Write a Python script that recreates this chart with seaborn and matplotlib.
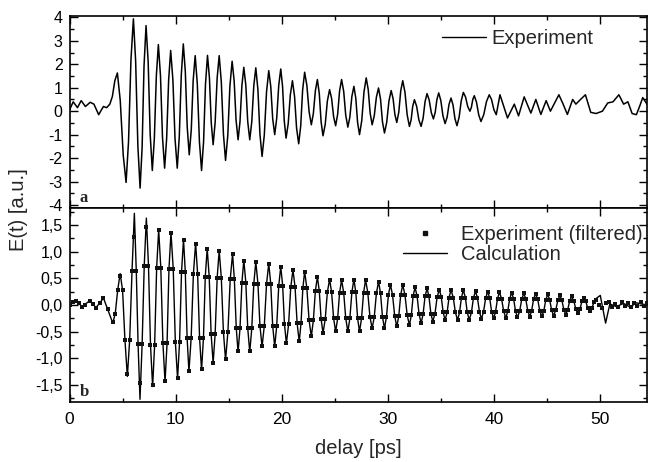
import matplotlib
matplotlib.use("Agg")
import matplotlib.pyplot as plt
from matplotlib.ticker import FixedLocator, FixedFormatter, MultipleLocator
from matplotlib.lines import Line2D
import pandas as pd
import seaborn as sns

# ---------------- data ----------------
# panel a: measured E(t), turning points of the trace
exp_t = [0.0, 0.35, 0.75, 1.1, 1.5, 1.95, 2.3, 2.75, 3.0, 3.2, 3.5, 3.8,
         4.51, 5.33, 6.02, 6.65, 7.21, 7.8, 8.37, 8.96, 9.53, 10.15, 10.72,
         11.28, 11.84, 12.44, 13.0, 13.53, 14.1, 14.7, 15.32, 15.88, 16.42,
         16.98, 17.55, 18.14, 18.77, 19.33, 19.9, 20.4, 21.0, 21.59, 22.15,
         22.78, 23.35, 23.88, 24.5, 25.07, 25.63, 26.22, 26.79, 27.32, 27.95,
         28.51, 29.11, 29.67, 30.3, 30.83, 31.39, 32.02, 32.49, 33.12, 33.68,
         34.28, 34.78, 35.38, 35.94, 36.5, 37.1, 37.72, 38.13, 38.76, 39.54,
         40.2, 40.55, 41.26, 41.9, 42.3, 42.83, 43.46, 43.93, 44.4, 44.9,
         45.3, 46.1, 46.5, 46.9, 47.4, 47.7, 48.16, 48.6, 49.1, 49.6, 50.2,
         50.7, 51.2, 51.75, 52.2, 52.6, 53.0, 53.4, 53.7, 54.0, 54.4]
exp_v = [0.05, 0.4, 0.15, 0.45, 0.2, 0.38, 0.3, -0.15, 0.05, 0.2, 0.15, 0.3,
         1.63, -3.04, 3.94, -3.28, 3.65, -2.53, 2.84, -2.43, 2.59, -2.43, 2.87,
         -1.86, 2.37, -2.53, 2.38, -1.43, 2.37, -2.1, 2.13, -1.22, 1.87,
         -1.22, 1.85, -1.93, 1.73, -1.0, 1.8, -1.15, 1.3, -1.39, 1.66,
         -0.58, 1.35, -1.05, 0.92, -0.62, 1.35, -0.68, 1.06, -1.0, 1.42,
         -0.58, 0.99, -0.93, 0.88, -0.48, 1.3, -0.65, 0.49, -0.65, 0.75,
         -0.33, 0.78, -0.53, 0.56, -0.62, 0.8, 0.0, 0.66, -0.44, 0.7,
         -0.15, 0.7, -0.29, 0.3, -0.2, 0.61, -0.08, 0.5, -0.14, 0.45,
         0.0, 0.7, 0.3, -0.14, 0.5, 0.3, 0.51, 0.7, -0.05, -0.1, 0.0,
         0.35, 0.4, 0.7, 0.3, 0.4, -0.1, -0.15, 0.2, 0.58, 0.3]
# panel a: points read on the flanks between the turning points
exp_flank_t = [4.04, 4.27, 4.78, 5.06, 5.56, 5.79, 6.23, 6.44, 6.84, 7.02,
               7.41, 7.6, 7.99, 8.18, 8.57, 8.76, 9.15, 9.34, 9.74, 9.94,
               10.34, 10.53, 10.91, 11.09, 11.47, 11.65, 12.04, 12.24, 12.63, 12.81,
               13.18, 13.35, 13.72, 13.91, 14.3, 14.5, 14.91, 15.11, 15.51, 15.69,
               16.06, 16.24, 16.61, 16.79, 17.17, 17.36, 17.75, 17.94, 18.35, 18.56,
               18.96, 19.14, 19.52, 19.71, 20.07, 20.23, 20.6, 20.8, 21.2, 21.39,
               21.78, 21.96, 22.36, 22.57, 22.97, 23.16, 23.53, 23.7, 24.09, 24.29,
               24.69, 24.88, 25.26, 25.44, 25.83, 26.02, 26.41, 26.6, 26.97, 27.14,
               27.53, 27.74, 28.14, 28.32, 28.71, 28.91, 29.3, 29.48, 29.88, 30.09,
               30.48, 30.65, 31.02, 31.2, 31.6, 31.81, 32.18, 32.33, 32.7, 32.91,
               33.31, 33.49, 33.88, 34.08, 34.45, 34.61, 34.98, 35.18, 35.57, 35.75,
               36.13, 36.31, 36.7, 36.9, 37.31, 37.51, 37.86, 37.99, 38.34, 38.55,
               39.02, 39.28, 39.76, 39.98]
exp_flank_v = [0.63, 1.3, 0.46, -1.87, -1.3, 2.2, 2.14, -1.48, -1.55, 1.92,
               2.11, -0.99, -1.19, 1.5, 1.52, -1.11, -1.17, 1.33, 1.33, -1.17,
               -1.1, 1.54, 1.69, -0.68, -0.8, 1.31, 1.15, -1.31, -1.3, 1.15,
               1.43, -0.48, -0.48, 1.42, 1.25, -0.98, -1.04, 1.07, 1.29, -0.38,
               -0.45, 1.1, 1.1, -0.45, -0.45, 1.08, 0.91, -0.99, -1.02, 0.82,
               1.05, -0.32, -0.3, 1.1, 1.06, -0.41, -0.54, 0.69, 0.63, -0.72,
               -0.63, 0.9, 1.1, -0.02, -0.1, 0.87, 0.75, -0.45, -0.56, 0.43,
               0.54, -0.24, -0.13, 0.86, 0.84, -0.17, -0.25, 0.63, 0.55, -0.49,
               -0.4, 0.82, 0.92, -0.08, -0.19, 0.6, 0.51, -0.45, -0.48, 0.43,
               0.54, -0.14, -0.04, 0.86, 0.81, -0.16, -0.37, 0.21, 0.21, -0.37,
               -0.3, 0.4, 0.48, -0.06, -0.05, 0.5, 0.45, -0.2, -0.26, 0.29,
               0.26, -0.32, -0.26, 0.44, 0.6, 0.2, 0.17, 0.5, 0.38, -0.16,
               -0.15, 0.41, 0.49, 0.06]

# panel b: calculation, turning points
calc_t = [0.0, 0.6, 1.2, 1.9, 2.5, 3.2, 4.08, 4.77, 5.45, 6.11, 6.64, 7.24,
          7.83, 8.4, 9.0, 9.56, 10.18, 10.74, 11.25, 11.88, 12.44, 12.97,
          13.53, 14.1, 14.7, 15.36, 15.88, 16.42, 16.98, 17.55, 18.14, 18.77,
          19.33, 19.9, 20.43, 21.05, 21.64, 22.15, 22.78, 23.35, 23.88, 24.5,
          25.07, 25.63, 26.22, 26.79, 27.32, 27.89, 28.51, 29.11, 29.67, 30.23,
          30.83, 31.39, 32.02, 32.55, 33.12, 33.68, 34.22, 34.84, 35.38, 35.94,
          36.56, 37.1, 37.66, 38.25, 38.8, 39.4, 39.95, 40.5, 41.1, 41.65,
          42.2, 42.8, 43.35, 43.9, 44.5, 45.05, 45.6, 46.2, 46.75, 47.3,
          47.9, 48.45, 49.0, 49.6, 50.0, 50.5, 50.9, 51.5, 52.2, 52.8, 53.4, 54.4]
calc_v = [0.02, 0.08, -0.03, 0.08, -0.05, 0.13, -0.34, 0.59, -1.34, 1.72, -1.77, 1.63,
          -1.53, 1.41, -1.44, 1.36, -1.38, 1.23, -1.25, 1.16, -1.22, 1.06,
          -1.09, 1.02, -1.03, 0.96, -0.88, 0.84, -0.88, 0.81, -0.78, 0.78,
          -0.78, 0.72, -0.72, 0.66, -0.69, 0.63, -0.59, 0.53, -0.53, 0.48,
          -0.5, 0.47, -0.5, 0.48, -0.5, 0.47, -0.44, 0.44, -0.44, 0.38,
          -0.41, 0.38, -0.38, 0.33, -0.34, 0.31, -0.31, 0.29, -0.28, 0.28,
          -0.28, 0.28, -0.28, 0.26, -0.26, 0.25, -0.25, 0.24, -0.24, 0.23,
          -0.23, 0.22, -0.22, 0.21, -0.21, 0.2, -0.2, 0.18, -0.18, 0.16,
          -0.15, 0.14, -0.12, 0.12, 0.18, -0.34, 0.02, -0.03, 0.03, -0.04, 0.04, 0.0]

# panel b: filtered experiment, turning points (plus quiet start and end)
filt_t = [0.0, 0.3, 0.6, 0.9, 1.2, 1.5, 1.9, 2.2, 2.5, 2.85,
          3.2, 3.6, 4.08, 4.77, 5.45, 6.11, 6.64, 7.24, 7.83, 8.4,
          9.0, 9.56, 10.18, 10.74, 11.25, 11.88, 12.44, 12.97, 13.53, 14.1,
          14.7, 15.36, 15.88, 16.42, 16.98, 17.55, 18.14, 18.77, 19.33, 19.9,
          20.43, 21.05, 21.64, 22.15, 22.78, 23.35, 23.88, 24.5, 25.07, 25.63,
          26.22, 26.79, 27.32, 27.89, 28.51, 29.11, 29.67, 30.23, 30.83, 31.39,
          32.02, 32.55, 33.12, 33.68, 34.22, 34.84, 35.38, 35.94, 36.56, 37.1,
          37.66, 38.25, 38.8, 39.4, 39.95, 40.5, 41.1, 41.65, 42.2, 42.8,
          43.35, 43.9, 44.5, 45.05, 45.6, 46.2, 46.75, 47.3, 47.9, 48.45,
          49.0, 49.6, 49.9, 50.2, 50.5, 50.8, 51.1, 51.4, 51.7, 52.0,
          52.3, 52.6, 52.9, 53.2, 53.5, 53.8, 54.1, 54.4]
filt_v = [0.0, 0.05, 0.08, 0.03, -0.04, 0.0, 0.08, 0.02, -0.05, 0.04,
          0.13, -0.08, -0.32, 0.55, -1.3, 1.28, -1.47, 1.47, -1.5, 1.4,
          -1.43, 1.35, -1.37, 1.22, -1.24, 1.15, -1.21, 1.05, -1.08, 1.01,
          -1.02, 0.95, -0.87, 0.83, -0.87, 0.8, -0.77, 0.77, -0.77, 0.71,
          -0.71, 0.65, -0.68, 0.62, -0.58, 0.52, -0.52, 0.47, -0.49, 0.46,
          -0.49, 0.47, -0.49, 0.46, -0.43, 0.43, -0.43, 0.37, -0.4, 0.37,
          -0.37, 0.33, -0.33, 0.31, -0.31, 0.29, -0.28, 0.28, -0.28, 0.28,
          -0.28, 0.26, -0.26, 0.25, -0.25, 0.24, -0.24, 0.23, -0.23, 0.22,
          -0.22, 0.21, -0.21, 0.2, -0.2, 0.18, -0.18, 0.16, -0.15, 0.14,
          -0.12, 0.1, 0.0, -0.06, 0.03, 0.06, -0.03, 0.02, -0.04, 0.05,
          -0.02, 0.03, -0.03, 0.04, -0.02, 0.05, -0.02, 0.03]
# panel b: points on the flanks, where data and calculation overlap
flank_t = [4.31, 4.54, 5.0, 5.22, 5.67, 5.89, 6.29, 6.46, 6.84, 7.04,
           7.44, 7.63, 8.02, 8.21, 8.6, 8.8, 9.19, 9.37, 9.77, 9.97,
           10.37, 10.55, 10.91, 11.08, 11.46, 11.67, 12.07, 12.25, 12.62, 12.79,
           13.16, 13.34, 13.72, 13.91, 14.3, 14.5, 14.92, 15.14, 15.53, 15.71,
           16.06, 16.24, 16.61, 16.79, 17.17, 17.36, 17.75, 17.94, 18.35, 18.56,
           18.96, 19.14, 19.52, 19.71, 20.08, 20.25, 20.64, 20.84, 21.25, 21.44,
           21.81, 21.98, 22.36, 22.57, 22.97, 23.16, 23.53, 23.7, 24.09, 24.29,
           24.69, 24.88, 25.26, 25.44, 25.83, 26.02, 26.41, 26.6, 26.97, 27.14,
           27.51, 27.7, 28.1, 28.3, 28.71, 28.91, 29.3, 29.48, 29.86, 30.04,
           30.43, 30.63, 31.02, 31.2, 31.6, 31.81, 32.2, 32.37, 32.74, 32.93,
           33.31, 33.49, 33.86, 34.04, 34.43, 34.63, 35.02, 35.2, 35.57, 35.75,
           36.15, 36.35, 36.74, 36.92, 37.29, 37.47, 37.86, 38.05, 38.43, 38.62,
           39.0, 39.2, 39.58, 39.77, 40.13, 40.32, 40.7, 40.9, 41.28, 41.47,
           41.83, 42.02, 42.4, 42.6, 42.98, 43.17, 43.53, 43.72, 44.1, 44.3,
           44.68, 44.87, 45.23, 45.42, 45.8, 46.0, 46.38, 46.57, 46.93, 47.12,
           47.5, 47.7, 48.08, 48.27, 48.63, 48.82, 49.2, 49.4]
flank_v = [-0.16, 0.28, 0.28, -0.65, -0.65, 0.64, 0.64, -0.74, -0.74, 0.74,
           0.74, -0.75, -0.75, 0.70, 0.70, -0.72, -0.72, 0.68, 0.68, -0.69,
           -0.69, 0.61, 0.61, -0.62, -0.62, 0.58, 0.58, -0.61, -0.61, 0.53,
           0.53, -0.54, -0.54, 0.51, 0.51, -0.51, -0.51, 0.48, 0.48, -0.44,
           -0.44, 0.42, 0.42, -0.44, -0.44, 0.40, 0.40, -0.39, -0.39, 0.39,
           0.39, -0.39, -0.39, 0.36, 0.36, -0.36, -0.36, 0.33, 0.33, -0.34,
           -0.34, 0.31, 0.31, -0.29, -0.29, 0.26, 0.26, -0.26, -0.26, 0.24,
           0.24, -0.25, -0.25, 0.23, 0.23, -0.25, -0.25, 0.24, 0.24, -0.25,
           -0.25, 0.23, 0.23, -0.22, -0.22, 0.22, 0.22, -0.22, -0.22, 0.19,
           0.19, -0.2, -0.2, 0.19, 0.19, -0.19, -0.19, 0.17, 0.17, -0.17,
           -0.17, 0.16, 0.16, -0.16, -0.16, 0.15, 0.15, -0.14, -0.14, 0.14,
           0.14, -0.14, -0.14, 0.14, 0.14, -0.14, -0.14, 0.13, 0.13, -0.13,
           -0.13, 0.13, 0.13, -0.13, -0.13, 0.12, 0.12, -0.12, -0.12, 0.12,
           0.12, -0.12, -0.12, 0.11, 0.11, -0.11, -0.11, 0.11, 0.11, -0.11,
           -0.11, 0.10, 0.10, -0.10, -0.10, 0.09, 0.09, -0.09, -0.09, 0.08,
           0.08, -0.08, -0.08, 0.07, 0.07, -0.06, -0.06, 0.05]

x_ticks = [0, 10, 20, 30, 40, 50]
x_labels = ["0", "10", "20", "30", "40", "50"]
a_ticks = [-4, -3, -2, -1, 0, 1, 2, 3, 4]
a_labels = ["-4", "-3", "-2", "-1", "0", "1", "2", "3", "4"]
b_ticks = [-1.5, -1.0, -0.5, 0.0, 0.5, 1.0, 1.5]
b_labels = ["-1,5", "-1,0", "-0,5", "0,0", "0,5", "1,0", "1,5"]

exp_df = pd.DataFrame({"t": exp_t + exp_flank_t,
                       "v": exp_v + exp_flank_v}).sort_values("t")
calc_df = pd.DataFrame({"t": calc_t + flank_t,
                        "v": calc_v + flank_v}).sort_values("t")
filt_df = pd.DataFrame({"t": filt_t + flank_t, "v": filt_v + flank_v})

# ---------------- style ----------------
sns.set_style("ticks")
plt.rcParams["font.family"] = ["Liberation Sans", "DejaVu Sans"]
plt.rcParams["axes.unicode_minus"] = False
plt.rcParams["axes.linewidth"] = 1.2

W, H = 652, 462
fig = plt.figure(figsize=(W / 100, H / 100), dpi=100)
L = 69.5 / W
AW = (647 - 69.5) / W
ax_a = fig.add_axes([L, 1 - 208 / H, AW, 192 / H])
ax_b = fig.add_axes([L, 1 - 402 / H, AW, 194 / H])

sns.lineplot(data=exp_df, x="t", y="v", ax=ax_a, color="black", lw=1.1,
             estimator=None, sort=False)
sns.lineplot(data=calc_df, x="t", y="v", ax=ax_b, color="black", lw=1.0,
             estimator=None, sort=False, zorder=2)
sns.scatterplot(data=filt_df, x="t", y="v", ax=ax_b, marker="s", s=11,
                color="#111111", linewidth=0, zorder=3)

for ax in (ax_a, ax_b):
    ax.set_xlim(0, 54.4)
    ax.xaxis.set_major_locator(FixedLocator(x_ticks))
    ax.xaxis.set_minor_locator(MultipleLocator(5))
    ax.tick_params(which="both", direction="in", top=True, right=True,
                   width=1.0, colors="black")
    ax.tick_params(which="major", length=6)
    ax.tick_params(which="minor", length=3)
    ax.tick_params(axis="y", labelsize=11.5, pad=5)
    for s in ax.spines.values():
        s.set_color("black")
    ax.set_xlabel("")
    ax.set_ylabel("")

ax_a.set_ylim(-4.13, 4.06)
ax_a.yaxis.set_major_locator(FixedLocator(a_ticks))
ax_a.yaxis.set_major_formatter(FixedFormatter(a_labels))
ax_a.yaxis.set_minor_locator(MultipleLocator(0.5))
ax_a.tick_params(axis="x", labelbottom=False)

ax_b.set_ylim(-1.82, 1.82)
ax_b.yaxis.set_major_locator(FixedLocator(b_ticks))
ax_b.yaxis.set_major_formatter(FixedFormatter(b_labels))
ax_b.yaxis.set_minor_locator(MultipleLocator(0.25))
ax_b.xaxis.set_major_formatter(FixedFormatter(x_labels))
ax_b.tick_params(axis="x", labelsize=12.5, pad=7)

# panel letters
ax_a.text(0.018, 0.012, "a", transform=ax_a.transAxes, ha="left", va="bottom",
          fontsize=12, fontweight="bold", family="Liberation Serif")
ax_b.text(0.018, 0.012, "b", transform=ax_b.transAxes, ha="left", va="bottom",
          fontsize=12, fontweight="bold", family="Liberation Serif")

# legends
h_exp = Line2D([], [], color="black", lw=1.0)
ax_a.legend([h_exp], ["Experiment"], loc="center left",
            bbox_to_anchor=(0.645, 0.883), frameon=False, fontsize=14.5,
            handlelength=2.2, handletextpad=0.25, borderpad=0,
            borderaxespad=0)
h_f = Line2D([], [], color="#111111", marker="s", ls="none", markersize=3.5)
h_c = Line2D([], [], color="black", lw=1.0)
ax_b.legend([h_f, h_c], ["Experiment (filtered)", "Calculation"],
            loc="center left", bbox_to_anchor=(0.577, 0.812), frameon=False,
            fontsize=14.5, handlelength=2.2, handletextpad=0.7,
            labelspacing=0.05, borderpad=0, borderaxespad=0)

fig.text(18 / W, 1 - 210 / H, "E(t) [a.u.]", rotation=90, ha="center",
         va="center", fontsize=14.5)
fig.text((69.5 + 647) / 2 / W, 1 - 448 / H, "delay [ps]", ha="center",
         va="center", fontsize=14.5)

fig.savefig("out.png", dpi=100)
